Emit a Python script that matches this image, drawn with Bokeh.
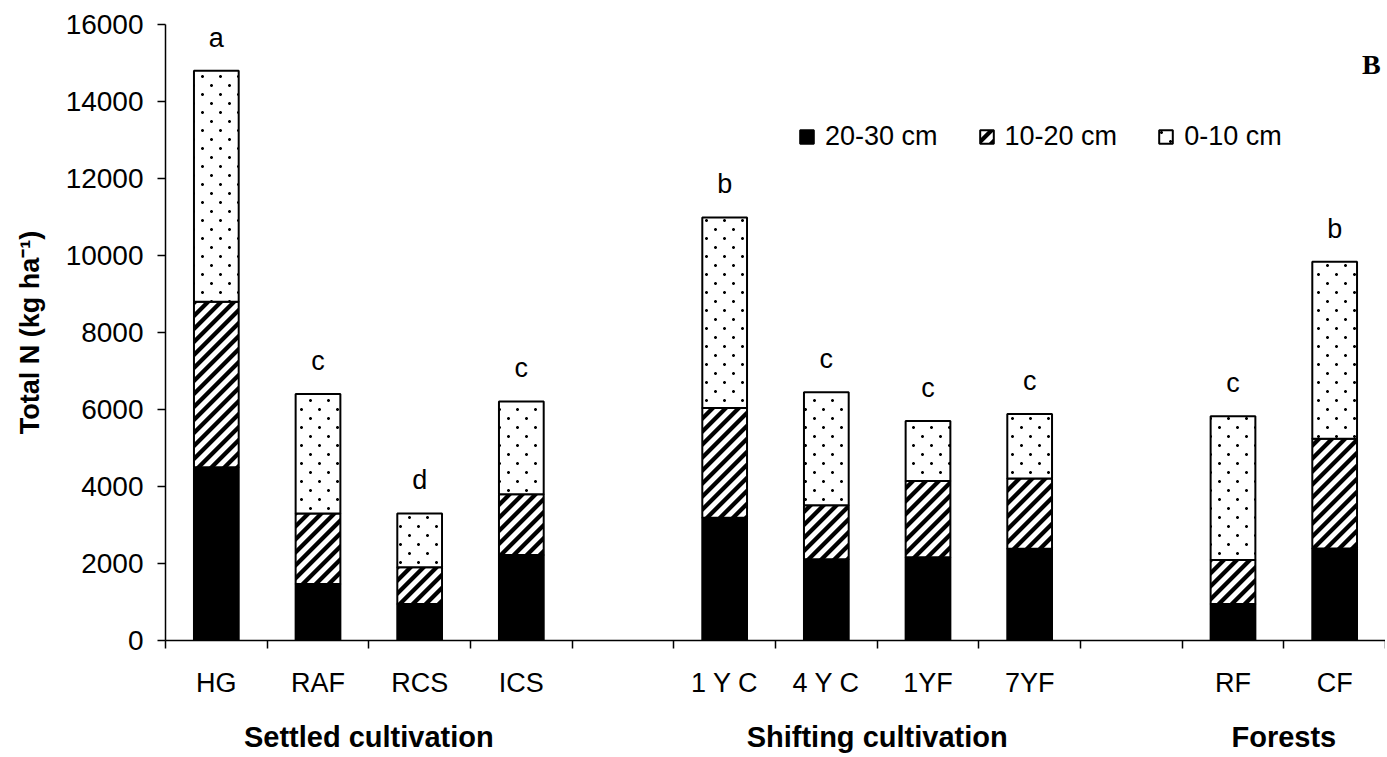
import zlib, struct, base64
from bokeh.plotting import figure
from bokeh.models import (Range1d, LinearAxis, FixedTicker, Legend, LegendItem, Label,
                          ColumnDataSource, ImageURLTexture)
from bokeh.core.properties import value
from bokeh.embed import file_html
from bokeh.resources import INLINE

# ---------------- data ----------------
groups = ["Settled cultivation"] * 4 + ["Shifting cultivation"] * 4 + ["Forests"] * 2
sites = ["HG", "RAF", "RCS", "ICS", "1 Y C", "4 Y C", "1YF", "7YF", "RF", "CF"]
n_20_30 = [4500, 1470, 950, 2220, 3190, 2110, 2160, 2380, 950, 2390]
n_10_20 = [4300, 1830, 950, 1580, 2850, 1400, 1980, 1830, 1140, 2850]
n_0_10 = [6000, 3100, 1400, 2410, 4950, 2940, 1560, 1670, 3735, 4600]
letters = ["a", "c", "d", "c", "b", "c", "c", "c", "c", "b"]
depth_labels = ["20-30 cm", "10-20 cm", "0-10 cm"]
y_ticks = [0, 2000, 4000, 6000, 8000, 10000, 12000, 14000, 16000]
y_title = "Total N (kg ha\u207b\u00b9)"
panel_tag = "B"

FONT = "Liberation Sans"


# ---------------- fill textures (small PNG tiles) ----------------
def png_url(w, h, alpha_fn, ss=4):
    raw = bytearray()
    for y in range(h):
        raw.append(0)
        for x in range(w):
            cov = 0
            for i in range(ss):
                for j in range(ss):
                    cov += alpha_fn(x + (i + 0.5) / ss, y + (j + 0.5) / ss)
            a = int(round(255 * cov / (ss * ss)))
            raw.extend((0, 0, 0, a))

    def chunk(t, d):
        return struct.pack(">I", len(d)) + t + d + struct.pack(">I", zlib.crc32(t + d) & 0xffffffff)

    png = (b"\x89PNG\r\n\x1a\n"
           + chunk(b"IHDR", struct.pack(">IIBBBBB", w, h, 8, 6, 0, 0, 0))
           + chunk(b"IDAT", zlib.compress(bytes(raw)))
           + chunk(b"IEND", b""))
    return "data:image/png;base64," + base64.b64encode(png).decode()


DIAG_P, DIAG_W = 13, 6.0
diag_url = png_url(DIAG_P, DIAG_P, lambda sx, sy: 1 if ((sx + sy) % DIAG_P) < DIAG_W else 0)

DOT_P, DOT_R = 18, 1.45
def _dot(sx, sy):
    for cx, cy in ((4.5, 4.5), (13.5, 13.5)):
        if (sx - cx) ** 2 + (sy - cy) ** 2 <= DOT_R ** 2:
            return 1
    return 0
dots_url = png_url(DOT_P, DOT_P, _dot)

textures = {"diag": ImageURLTexture(url=diag_url, repetition="repeat"),
            "dots": ImageURLTexture(url=dots_url, repetition="repeat")}

# category slots: one empty slot between groups (Excel-style category axis)
positions = []
slot = 0.5
prev = None
for g in groups:
    if prev is not None and g != prev:
        slot += 1
    positions.append(slot)
    slot += 1
    prev = g
n_slots = int(slot - 0.5)
group_names = list(dict.fromkeys(groups))
group_centers = [sum(x for x, g in zip(positions, groups) if g == gn) / groups.count(gn)
                 for gn in group_names]

totals = [a + b + c for a, b, c in zip(n_20_30, n_10_20, n_0_10)]
src = ColumnDataSource(dict(x=positions, d1=n_20_30, d2=n_10_20, d3=n_0_10,
                            top=totals, letter=letters))

p = figure(x_range=Range1d(0, n_slots), y_range=Range1d(0, 16000),
           frame_width=1220, frame_height=616,
           min_border_left=165, min_border_top=24, min_border_right=0, min_border_bottom=60,
           output_backend="svg", toolbar_location=None,
           x_axis_location=None, y_axis_location="left")
p.xgrid.visible = False
p.ygrid.visible = False
p.outline_line_color = None
p.background_fill_color = "white"
p.border_fill_color = "white"

# stacked bars
rs = p.vbar_stack(["d1", "d2", "d3"], x="x", width=0.44, source=src,
                  fill_color=["black", "white", "white"],
                  line_color="black", line_width=2,
                  hatch_pattern=[value(" "), value("diag"), value("dots")],
                  hatch_extra=textures)

# significance letters
p.text(x="x", y="top", text="letter", source=src,
       text_font=value(FONT), text_font_size="27px", text_color="black",
       text_align="center", text_baseline="middle", y_offset=-33)

# y axis
ya = p.yaxis[0]
ya.ticker = FixedTicker(ticks=y_ticks)
ya.major_tick_out = 8
ya.major_tick_in = 0
ya.minor_tick_line_color = None
ya.axis_line_width = 1.5
ya.major_tick_line_width = 1.5
ya.major_label_text_font = FONT
ya.major_label_text_font_size = "28px"
ya.major_label_text_color = "black"
ya.major_label_standoff = 14
ya.axis_label = y_title
ya.axis_label_text_font = FONT
ya.axis_label_text_font_style = "bold"
ya.axis_label_text_font_size = "27px"
ya.axis_label_text_color = "black"
ya.axis_label_standoff = 18

# x axis: line with tick marks between categories
slot_edges = list(range(n_slots + 1))
tick_axis = LinearAxis(ticker=FixedTicker(ticks=slot_edges),
                       major_label_overrides={t: "" for t in slot_edges},
                       major_tick_out=8, major_tick_in=0, minor_tick_line_color=None,
                       axis_line_width=1.5, major_tick_line_width=1.5,
                       major_label_text_font_size="1px", major_label_standoff=0)
p.add_layout(tick_axis, "below")

# x axis: category names
site_axis = LinearAxis(ticker=FixedTicker(ticks=positions),
                       major_label_overrides={x: s for x, s in zip(positions, sites)},
                       axis_line_color=None, major_tick_line_color=None,
                       minor_tick_line_color=None, major_label_standoff=13,
                       major_label_text_font=FONT, major_label_text_font_size="27px",
                       major_label_text_color="black")
p.add_layout(site_axis, "below")

# x axis: group names
group_axis = LinearAxis(ticker=FixedTicker(ticks=group_centers),
                        major_label_overrides={x: g for x, g in zip(group_centers, group_names)},
                        axis_line_color=None, major_tick_line_color=None,
                        minor_tick_line_color=None, major_label_standoff=14,
                        major_label_text_font=FONT, major_label_text_font_size="29px",
                        major_label_text_font_style="bold", major_label_text_color="black")
p.add_layout(group_axis, "below")

# legend
legend = Legend(items=[LegendItem(label=lab, renderers=[r]) for lab, r in zip(depth_labels, rs)],
                orientation="horizontal", location=(633, 488),
                border_line_color=None, background_fill_alpha=0,
                label_text_font=FONT, label_text_font_size="27px", label_text_color="black",
                glyph_width=17, glyph_height=17, label_standoff=10, spacing=40,
                padding=0, margin=0)
p.add_layout(legend)

# panel tag
p.add_layout(Label(x=11.86, y=14950, text=panel_tag,
                   text_font="Liberation Serif", text_font_style="bold",
                   text_font_size="28px", text_color="black",
                   text_align="center", text_baseline="middle"))

open("out.html", "w").write(file_html(p, INLINE))
